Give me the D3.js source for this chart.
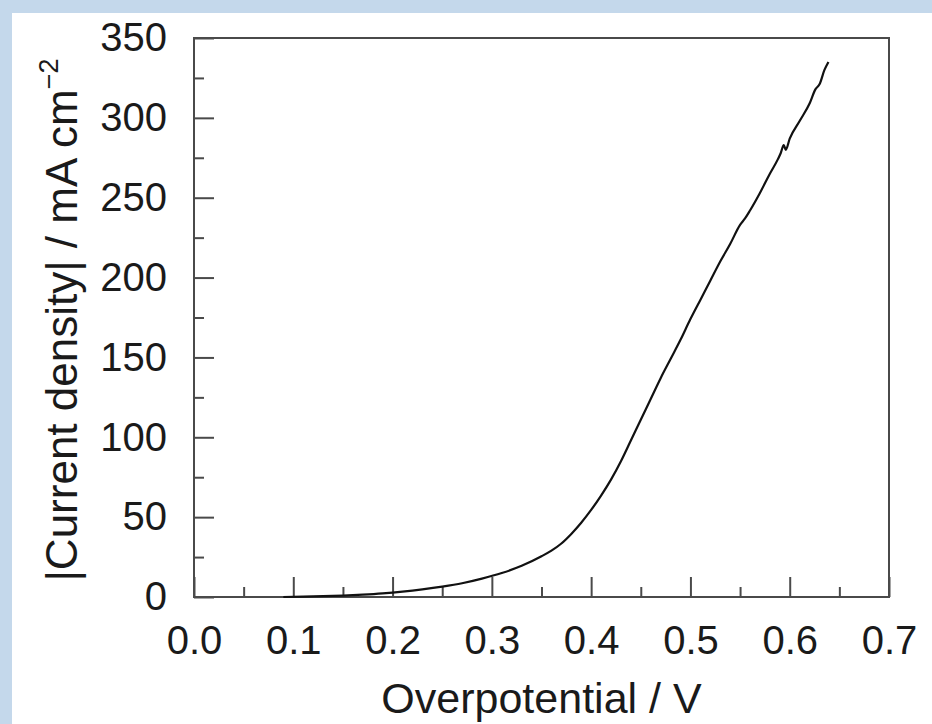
<!DOCTYPE html>
<html>
<head>
<meta charset="utf-8">
<script src="https://cdn.jsdelivr.net/npm/d3@7"></script>
<style>
  html, body { margin: 0; padding: 0; background: #c4d8eb; }
  svg { display: block; }
  text { font-family: "Liberation Sans", Arial, sans-serif; fill: #1a1a1a; }
</style>
</head>
<body>
<svg id="chart" width="932" height="724"></svg>
<script>
// polarisation curve
const overpotential = [0.090, 0.110, 0.130, 0.150, 0.170, 0.190, 0.210, 0.230, 0.250, 0.270,
  0.290, 0.310, 0.330, 0.350, 0.360, 0.370, 0.380, 0.390, 0.400, 0.410, 0.420, 0.430, 0.440, 0.450,
  0.460, 0.470, 0.480, 0.490, 0.500, 0.510, 0.520, 0.530, 0.540, 0.550, 0.555, 0.560, 0.570,
  0.580, 0.588, 0.591, 0.594, 0.596, 0.600, 0.610, 0.620, 0.626, 0.630, 0.635, 0.639];
const currentDensity = [0.0, 0.2, 0.5, 0.9, 1.5, 2.3, 3.4, 4.8, 6.5, 8.6,
  11.5, 15, 19.5, 25.5, 29, 33.5, 39.5, 46.5, 54.5, 63.5, 73.5, 85, 98, 111,
  124, 137, 149, 161, 174, 186, 198, 210, 221, 233, 237, 242, 253,
  265, 274, 278, 283, 280, 287, 298, 309, 318, 321, 330, 335];

const xMajor = [0, 0.1, 0.2, 0.3, 0.4, 0.5, 0.6, 0.7];
const xMinor = [0.05, 0.15, 0.25, 0.35, 0.45, 0.55, 0.65];
const yMajor = [0, 50, 100, 150, 200, 250, 300, 350];
const yMinor = [25, 75, 125, 175, 225, 275, 325];

const xTitle = "Overpotential / V";
const yTitle = "|Current density| / mA cm";

const svg = d3.select("#chart");
const margin = { left: 194, top: 38, right: 43, bottom: 127 };
const W = 932, H = 724;
const w = W - margin.left - margin.right;
const h = H - margin.top - margin.bottom;

// white panel over the blue backdrop
svg.append("rect").attr("x", 12).attr("y", 13).attr("width", W - 12).attr("height", H - 13).attr("fill", "#fff");

const x = d3.scaleLinear().domain([0, 0.7]).range([0, w]);
const y = d3.scaleLinear().domain([0, 350]).range([h, 0]);

const g = svg.append("g").attr("transform", `translate(${margin.left},${margin.top})`);
const AXIS = "#4a4a4a";

const styleAxis = sel => {
  sel.select(".domain").remove();
  sel.selectAll(".tick line").attr("stroke", AXIS).attr("stroke-width", 2);
  sel.selectAll(".tick text").attr("font-size", 40).attr("fill", "#1a1a1a")
    .attr("font-family", '"Liberation Sans", Arial, sans-serif');
};

// minor ticks first, no labels
g.append("g").attr("transform", `translate(0,${h})`)
  .call(d3.axisBottom(x).tickValues(xMinor).tickSize(-10).tickFormat(""))
  .call(styleAxis);
g.append("g")
  .call(d3.axisLeft(y).tickValues(yMinor).tickSize(-10).tickFormat(""))
  .call(styleAxis);

g.append("g").attr("transform", `translate(0,${h})`)
  .call(d3.axisBottom(x).tickValues(xMajor).tickSize(-20).tickPadding(29).tickFormat(d3.format(".1f")))
  .call(styleAxis);
g.append("g")
  .call(d3.axisLeft(y).tickValues(yMajor).tickSize(-20).tickPadding(27).tickFormat(d3.format("d")))
  .call(styleAxis);

// frame
g.append("rect").attr("width", w).attr("height", h)
  .attr("fill", "none").attr("stroke", AXIS).attr("stroke-width", 2);

const line = d3.line()
  .x((d, i) => x(overpotential[i]))
  .y(d => y(d))
  .curve(d3.curveMonotoneX);

g.append("path").datum(currentDensity)
  .attr("d", line)
  .attr("fill", "none")
  .attr("stroke", "#111")
  .attr("stroke-width", 2.2);

// axis titles
svg.append("text")
  .attr("x", margin.left + w / 2).attr("y", 713)
  .attr("text-anchor", "middle").attr("font-size", 43)
  .text(xTitle);

const yt = svg.append("text")
  .attr("transform", `translate(77,320) rotate(-90)`)
  .attr("text-anchor", "middle").attr("font-size", 44);
yt.append("tspan").text(yTitle);
yt.append("tspan").attr("dy", -19).attr("font-size", 27).text("−2");
</script>
</body>
</html>
